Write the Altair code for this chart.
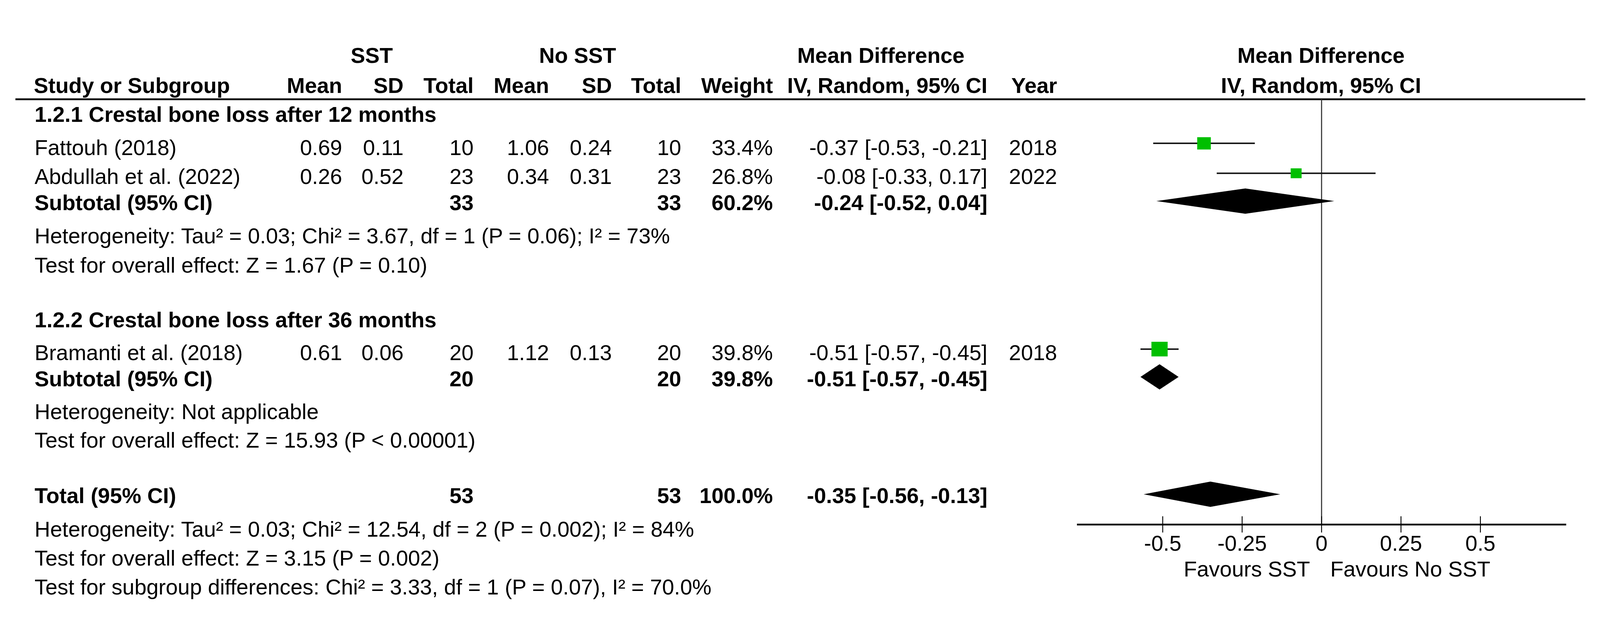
import altair as alt
import pandas as pd

# ---------------- data ----------------
subgroups = ["1.2.1 Crestal bone loss after 12 months",
             "1.2.2 Crestal bone loss after 36 months"]
studies = ["Fattouh (2018)", "Abdullah et al. (2022)", "Bramanti et al. (2018)"]
sst_mean = [0.69, 0.26, 0.61]
sst_sd = [0.11, 0.52, 0.06]
sst_n = [10, 23, 20]
nosst_mean = [1.06, 0.34, 1.12]
nosst_sd = [0.24, 0.31, 0.13]
nosst_n = [10, 23, 20]
weights = [33.4, 26.8, 39.8]
md = [-0.37, -0.08, -0.51]
md_lo = [-0.53, -0.33, -0.57]
md_hi = [-0.21, 0.17, -0.45]
years = [2018, 2022, 2018]

sub_n_sst = [33, 20]
sub_n_nosst = [33, 20]
sub_weight = [60.2, 39.8]
sub_md = [-0.24, -0.51]
sub_lo = [-0.52, -0.57]
sub_hi = [0.04, -0.45]
sub_het = ["Heterogeneity: Tau² = 0.03; Chi² = 3.67, df = 1 (P = 0.06); I² = 73%",
           "Heterogeneity: Not applicable"]
sub_test = ["Test for overall effect: Z = 1.67 (P = 0.10)",
            "Test for overall effect: Z = 15.93 (P < 0.00001)"]

tot_n_sst = 53
tot_n_nosst = 53
tot_weight = 100.0
tot_md = -0.35
tot_lo = -0.56
tot_hi = -0.13
tot_notes = ["Heterogeneity: Tau² = 0.03; Chi² = 12.54, df = 2 (P = 0.002); I² = 84%",
             "Test for overall effect: Z = 3.15 (P = 0.002)",
             "Test for subgroup differences: Chi² = 3.33, df = 1 (P = 0.07), I² = 70.0%"]

axis_ticks = [-0.5, -0.25, 0, 0.25, 0.5]
axis_tick_labels = ["-0.5", "-0.25", "0", "0.25", "0.5"]
axis_extent = [-0.77, 0.77]
favours = ["Favours SST", "Favours No SST"]

# ---------------- layout (image pixel coordinates) ----------------
OFF = 8
W, H = 4430 - 2 * OFF, 1636 - 2 * OFF
FONT = "Liberation Sans"
FS = 60

X_LABEL = 95
X_SST_MEAN, X_SST_SD, X_SST_N = 947, 1117, 1311
X_NO_MEAN, X_NO_SD, X_NO_N = 1520, 1694, 1886
X_WEIGHT = 2140
X_CI = 2734
X_YEAR = 2927
X_PLOT_C = 3658

Y_H1, Y_H2, Y_RULE = 107, 190, 208
Y_SUBTITLE = [271, 840]
Y_STUDY = [363, 443, 931]
Y_SUBTOT = [515, 1003]
Y_HET = [607, 1094]
Y_TEST = [688, 1173]
Y_TOTAL = 1327
Y_TOTNOTES = [1420, 1500, 1580]
Y_SQ = [330, 413, 900]
Y_DIA = [490, 977, 1302]
DIA_HALF = 35
Y_AXIS = 1386
Y_TICK = (1363, 1408)
Y_TICKLAB = 1459
Y_FAV = 1530
PLOT_X = (2982, 4337)

px_scale = alt.Scale(domain=[0, W], range=[0, W], nice=False, zero=False)
py_scale = alt.Scale(domain=[0, H], range=[0, H], nice=False, zero=False)
md_scale = alt.Scale(domain=axis_extent, range=[PLOT_X[0] - OFF, PLOT_X[1] - OFF],
                     nice=False, zero=False)

cells = []


def add(label, x, y, align="left", bold=False):
    cells.append(dict(label=label, px=x - OFF, py=y - OFF, al=align, bd=bold))


# headers
add("SST", 1029, Y_H1, "center", True)
add("No SST", 1599, Y_H1, "center", True)
add("Mean Difference", 2439, Y_H1, "center", True)
add("Mean Difference", X_PLOT_C, Y_H1, "center", True)
add("Study or Subgroup", 93, Y_H2, "left", True)
for t, x in [("Mean", X_SST_MEAN), ("SD", X_SST_SD), ("Total", X_SST_N),
             ("Mean", X_NO_MEAN), ("SD", X_NO_SD), ("Total", X_NO_N),
             ("Weight", X_WEIGHT), ("IV, Random, 95% CI", X_CI), ("Year", X_YEAR)]:
    add(t, x, Y_H2, "right", True)
add("IV, Random, 95% CI", X_PLOT_C, Y_H2, "center", True)


def ci_text(m, lo, hi):
    return f"{m:.2f} [{lo:.2f}, {hi:.2f}]"


study_groups = [[0, 1], [2]]
for g in range(2):
    add(subgroups[g], X_LABEL, Y_SUBTITLE[g], "left", True)
    for i in study_groups[g]:
        y = Y_STUDY[i]
        add(studies[i], X_LABEL, y)
        add(f"{sst_mean[i]:.2f}", X_SST_MEAN, y, "right")
        add(f"{sst_sd[i]:.2f}", X_SST_SD, y, "right")
        add(str(sst_n[i]), X_SST_N, y, "right")
        add(f"{nosst_mean[i]:.2f}", X_NO_MEAN, y, "right")
        add(f"{nosst_sd[i]:.2f}", X_NO_SD, y, "right")
        add(str(nosst_n[i]), X_NO_N, y, "right")
        add(f"{weights[i]:.1f}%", X_WEIGHT, y, "right")
        add(ci_text(md[i], md_lo[i], md_hi[i]), X_CI, y, "right")
        add(str(years[i]), X_YEAR, y, "right")
    y = Y_SUBTOT[g]
    add("Subtotal (95% CI)", X_LABEL, y, "left", True)
    add(str(sub_n_sst[g]), X_SST_N, y, "right", True)
    add(str(sub_n_nosst[g]), X_NO_N, y, "right", True)
    add(f"{sub_weight[g]:.1f}%", X_WEIGHT, y, "right", True)
    add(ci_text(sub_md[g], sub_lo[g], sub_hi[g]), X_CI, y, "right", True)
    add(sub_het[g], X_LABEL, Y_HET[g])
    add(sub_test[g], X_LABEL, Y_TEST[g])

add("Total (95% CI)", X_LABEL, Y_TOTAL, "left", True)
add(str(tot_n_sst), X_SST_N, Y_TOTAL, "right", True)
add(str(tot_n_nosst), X_NO_N, Y_TOTAL, "right", True)
add(f"{tot_weight:.1f}%", X_WEIGHT, Y_TOTAL, "right", True)
add(ci_text(tot_md, tot_lo, tot_hi), X_CI, Y_TOTAL, "right", True)
for t, y in zip(tot_notes, Y_TOTNOTES):
    add(t, X_LABEL, y)

cells_df = pd.DataFrame(cells)

layers = []
for align in ["left", "right", "center"]:
    for bold in [False, True]:
        sub = cells_df[(cells_df.al == align) & (cells_df.bd == bold)][["label", "px", "py"]]
        if len(sub) == 0:
            continue
        layers.append(
            alt.Chart(sub.reset_index(drop=True)).mark_text(
                align=align, baseline="alphabetic", font=FONT, fontSize=FS,
                fontWeight="bold" if bold else "normal", color="#000"
            ).encode(
                x=alt.X("px:Q", scale=px_scale, axis=None),
                y=alt.Y("py:Q", scale=py_scale, axis=None),
                text="label:N",
            )
        )

# header rule
layers.append(
    alt.Chart(pd.DataFrame({"a": [42 - OFF], "b": [4390 - OFF], "c": [Y_RULE - OFF]}))
    .mark_rule(color="#111", strokeWidth=5).encode(
        x=alt.X("a:Q", scale=px_scale, axis=None), x2="b:Q",
        y=alt.Y("c:Q", scale=py_scale, axis=None),
    )
)

# zero line
layers.append(
    alt.Chart(pd.DataFrame({"v": [0.0], "a": [Y_RULE - OFF], "b": [Y_AXIS - OFF]}))
    .mark_rule(color="#333", strokeWidth=3).encode(
        x=alt.X("v:Q", scale=md_scale, axis=None),
        y=alt.Y("a:Q", scale=py_scale, axis=None), y2="b:Q",
    )
)

study_df = pd.DataFrame(dict(md=md, lo=md_lo, hi=md_hi, w=weights,
                             yc=[v - OFF for v in Y_SQ]))
layers.append(
    alt.Chart(study_df).mark_rule(color="#111", strokeWidth=4).encode(
        x=alt.X("lo:Q", scale=md_scale, axis=None), x2="hi:Q",
        y=alt.Y("yc:Q", scale=py_scale, axis=None),
    )
)
# weight boxes (slightly wider than tall, as in the reference)
layers.append(
    alt.Chart(study_df).mark_point(
        shape="M-1.05,-0.95L1.05,-0.95L1.05,0.95L-1.05,0.95Z",
        color="#00BF00", fill="#00BF00", opacity=1, filled=True, strokeWidth=0,
    ).encode(
        x=alt.X("md:Q", scale=md_scale, axis=None),
        y=alt.Y("yc:Q", scale=py_scale, axis=None),
        size=alt.Size("w:Q", scale=alt.Scale(type="pow", exponent=2, domain=[0, 40],
                                             range=[0, 43 * 43]), legend=None),
    )
)

# diamonds
dia = []
for gi, (m, lo, hi, yc) in enumerate(zip(sub_md + [tot_md], sub_lo + [tot_lo],
                                         sub_hi + [tot_hi], Y_DIA)):
    yc = yc - OFF
    dia += [dict(g=gi, xv=lo, ya=yc, yb=yc),
            dict(g=gi, xv=m, ya=yc - DIA_HALF, yb=yc + DIA_HALF),
            dict(g=gi, xv=hi, ya=yc, yb=yc)]
layers.append(
    alt.Chart(pd.DataFrame(dia)).mark_area(color="#000", opacity=1).encode(
        x=alt.X("xv:Q", scale=md_scale, axis=None),
        y=alt.Y("ya:Q", scale=py_scale, axis=None, stack=None),
        y2="yb:Q",
        detail="g:N",
    )
)

# axis
layers.append(
    alt.Chart(pd.DataFrame({"a": [axis_extent[0]], "b": [axis_extent[1]], "c": [Y_AXIS - OFF]}))
    .mark_rule(color="#000", strokeWidth=5).encode(
        x=alt.X("a:Q", scale=md_scale, axis=None), x2="b:Q",
        y=alt.Y("c:Q", scale=py_scale, axis=None),
    )
)
tick_df = pd.DataFrame({"t": axis_ticks, "lab": axis_tick_labels,
                        "ya": Y_TICK[0] - OFF, "yb": Y_TICK[1] - OFF, "yl": Y_TICKLAB - OFF})
layers.append(
    alt.Chart(tick_df).mark_rule(color="#000", strokeWidth=2.5).encode(
        x=alt.X("t:Q", scale=md_scale, axis=None),
        y=alt.Y("ya:Q", scale=py_scale, axis=None), y2="yb:Q",
    )
)
layers.append(
    alt.Chart(tick_df).mark_text(align="center", baseline="alphabetic", font=FONT,
                                 fontSize=FS, color="#000").encode(
        x=alt.X("t:Q", scale=md_scale, axis=None),
        y=alt.Y("yl:Q", scale=py_scale, axis=None), text="lab:N",
    )
)
fav_df = pd.DataFrame({"v": [0.0], "lab": [favours[0]], "lab2": [favours[1]], "yf": [Y_FAV - OFF]})
layers.append(
    alt.Chart(fav_df).mark_text(
        align="right", baseline="alphabetic", font=FONT, fontSize=FS, color="#000", dx=-32
    ).encode(x=alt.X("v:Q", scale=md_scale, axis=None),
             y=alt.Y("yf:Q", scale=py_scale, axis=None), text="lab:N")
)
layers.append(
    alt.Chart(fav_df).mark_text(
        align="left", baseline="alphabetic", font=FONT, fontSize=FS, color="#000", dx=24
    ).encode(x=alt.X("v:Q", scale=md_scale, axis=None),
             y=alt.Y("yf:Q", scale=py_scale, axis=None), text="lab2:N")
)

chart = alt.layer(*layers).properties(
    width=W, height=H, padding=0, background="white",
    autosize=alt.AutoSizeParams(type="none"),
).resolve_scale(x="independent", size="independent").configure_view(stroke=None)

chart.save("out.html", embed_options={"renderer": "svg", "actions": False})
